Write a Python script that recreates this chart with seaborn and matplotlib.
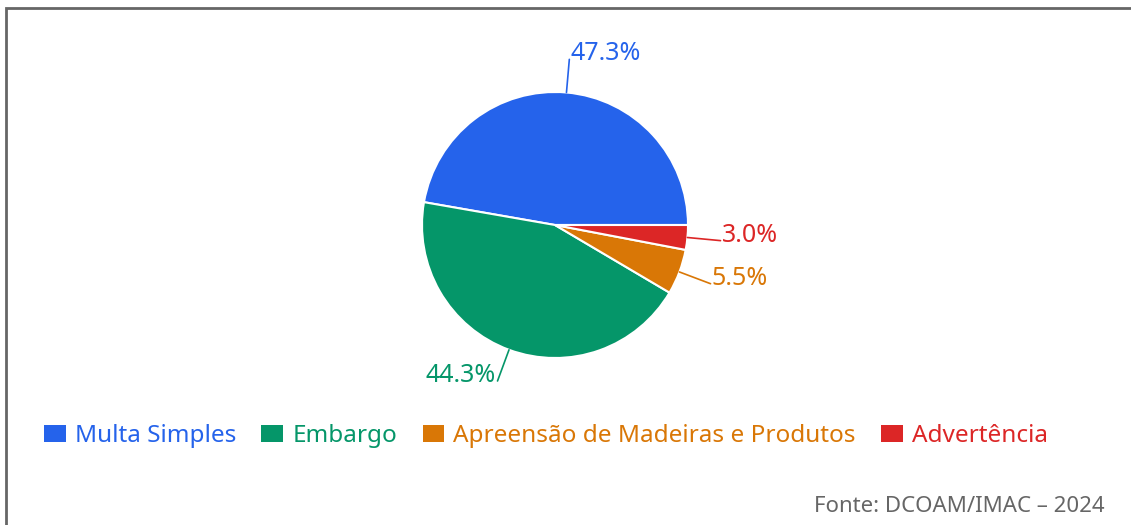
import numpy as np
import matplotlib
matplotlib.use("Agg")
import matplotlib.pyplot as plt
import seaborn as sns
from matplotlib.patches import Rectangle

# Data
categories = ["Multa Simples", "Embargo", "Apreensão de Madeiras e Produtos", "Advertência"]
shares = [47.3, 44.3, 5.5, 3.0]
colors = ["#2563EB", "#059669", "#D97706", "#DC2626"]
source = "Fonte: DCOAM/IMAC – 2024"

sns.set_theme(style="white")
plt.rcParams["font.family"] = ["Noto Sans", "DejaVu Sans"]

W, H = 1131, 525
fig = plt.figure(figsize=(W / 100, H / 100), dpi=100)
ax = fig.add_axes([0, 0, 1, 1])
ax.set_xlim(0, W)
ax.set_ylim(0, H)
ax.set_aspect("equal")
ax.axis("off")

# pie in pixel space
cx, cy, r = 555, H - 225, 133
wedges, _ = ax.pie(shares, colors=colors, radius=r, center=(cx, cy),
                   startangle=0, counterclock=True,
                   wedgeprops=dict(edgecolor="white", linewidth=1.5))
ax.set_xlim(0, W)
ax.set_ylim(0, H)

# leader lines + labels
for w, val, col in zip(wedges, shares, colors):
    ang = np.deg2rad((w.theta1 + w.theta2) / 2)
    x0, y0 = cx + r * np.cos(ang), cy + r * np.sin(ang)
    x1, y1 = cx + 1.25 * r * np.cos(ang), cy + 1.25 * r * np.sin(ang)
    ax.plot([x0, x1], [y0, y1], color=col, lw=1.2)
    if np.cos(ang) >= 0:
        ax.text(x1 + 1, y1 - 1, f"{val:.1f}%", color=col, fontsize=18,
                ha="left", va="baseline")
    else:
        ax.text(x1 - 2, y1 - 1, f"{val:.1f}%", color=col, fontsize=18,
                ha="right", va="baseline")

# legend
leg = ax.legend(wedges, categories, loc="center", bbox_to_anchor=(546 / W, 1 - 436 / H),
                ncol=4, frameon=False, fontsize=17.5, labelcolor=colors,
                handlelength=0.9, handleheight=0.66, handletextpad=0.37,
                columnspacing=1.05, borderaxespad=0)
for h in leg.legend_handles:
    h.set_edgecolor("none")

# source
fig.text(1105 / W, 1 - 506 / H, source, ha="right", va="center",
         fontsize=16, color="#666666")

# frame (top and left edges visible)
fig.patches.append(Rectangle((6 / W, -0.1), 1.2, (H - 8) / H + 0.1,
                             transform=fig.transFigure, fill=False,
                             edgecolor="#666666", linewidth=2))

fig.savefig("out.png", dpi=100)
